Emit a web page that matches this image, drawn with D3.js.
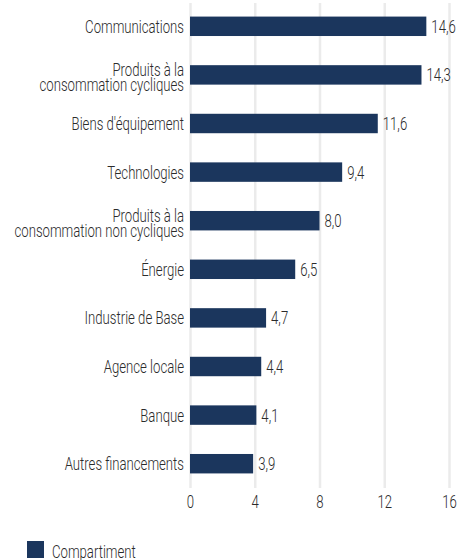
<!DOCTYPE html>
<html>
<head>
<meta charset="utf-8">
<script src="https://cdn.jsdelivr.net/npm/d3@7"></script>
<style>
  body { margin: 0; background: #fff; }
  text { font-family: Roboto, "Liberation Sans", sans-serif; font-weight: 300; fill: #2b2b2b; }
</style>
</head>
<body>
<div id="chart"></div>
<script>
// categories (each entry = lines of the label)
const categories = [
  ["Communications"],
  ["Produits à la", "consommation cycliques"],
  ["Biens d'équipement"],
  ["Technologies"],
  ["Produits à la", "consommation non cycliques"],
  ["Énergie"],
  ["Industrie de Base"],
  ["Agence locale"],
  ["Banque"],
  ["Autres financements"]
];
const values = [14.6, 14.3, 11.6, 9.4, 8.0, 6.5, 4.7, 4.4, 4.1, 3.9];
const xTicks = [0, 4, 8, 12, 16];
const seriesName = "Compartiment";

const W = 460, H = 560;
const barColor = "#1b365d";
const fontSize = 19;

const data = categories.map((c, i) => ({ key: c.join(" "), lines: c, value: values[i] }));

const svg = d3.select("#chart").append("svg")
  .attr("width", W)
  .attr("height", H);

// the reference uses a condensed face; squeeze the installed font horizontally
const probe = svg.append("text").style("font-size", fontSize + "px").text("Communications");
const sx = 99 / probe.node().getComputedTextLength();
probe.remove();

const x = d3.scaleLinear().domain([0, 16]).range([190, 449]);
const y = d3.scaleBand()
  .domain(data.map(d => d.key))
  .range([2, 488])
  .paddingInner(0.6)
  .paddingOuter(0.3);

// gridlines + tick labels
const axis = svg.append("g")
  .attr("transform", "translate(0,488)")
  .call(d3.axisBottom(x).tickValues(xTicks).tickSize(-485));
axis.select(".domain").remove();
axis.selectAll(".tick line")
  .attr("stroke", "#ebebeb")
  .attr("stroke-width", 2.5);
axis.selectAll(".tick text")
  .attr("y", 20.5)
  .attr("dy", null)
  .attr("transform", `scale(${sx},1)`)
  .style("font-size", fontSize + "px")
  .attr("fill", "#2b2b2b");

// bars
svg.append("g").selectAll("rect")
  .data(data)
  .join("rect")
  .attr("x", x(0))
  .attr("y", d => y(d.key))
  .attr("width", d => x(d.value) - x(0))
  .attr("height", y.bandwidth())
  .attr("fill", barColor);

// value labels
svg.append("g").selectAll("g")
  .data(data)
  .join("g")
  .attr("transform", d => `translate(${x(d.value) + 5},${y(d.key) + y.bandwidth() / 2 + 6.5}) scale(${sx},1)`)
  .append("text")
  .style("font-size", fontSize + "px")
  .text(d => d.value.toFixed(1).replace(".", ","));

// category labels
const labels = svg.append("g").selectAll("g")
  .data(data)
  .join("g")
  .attr("transform", d => `translate(184,${y(d.key) + y.bandwidth() / 2}) scale(${sx},1)`)
  .append("text")
  .attr("text-anchor", "end")
  .style("font-size", fontSize + "px");

labels.each(function (d) {
  const n = d.lines.length;
  d3.select(this).selectAll("tspan")
    .data(d.lines)
    .join("tspan")
    .attr("x", 0)
    .attr("y", (l, i) => n === 1 ? 6.5 : 1.5 + i * 14.5)
    .text(l => l);
});

// legend
const legend = svg.append("g").attr("transform", "translate(27,541)");
legend.append("rect")
  .attr("width", 17)
  .attr("height", 17)
  .attr("fill", barColor);
legend.append("g")
  .attr("transform", `translate(25,16.5) scale(${sx},1)`)
  .append("text")
  .style("font-size", "19px")
  .text(seriesName);
</script>
</body>
</html>
